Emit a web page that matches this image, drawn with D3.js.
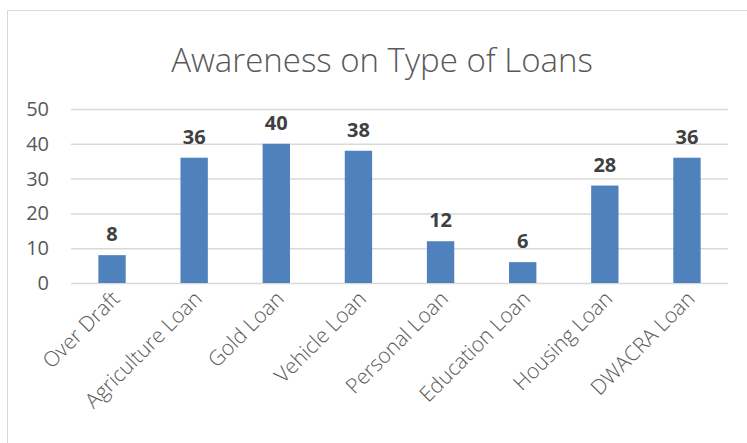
<!DOCTYPE html>
<html><head><meta charset="utf-8">
<script src="https://cdn.jsdelivr.net/npm/d3@7"></script>
<style>body{margin:0;background:#fff}svg{display:block}</style>
</head><body>
<svg id="c" width="747" height="443"></svg>
<script>
const categories = ["Over Draft","Agriculture Loan","Gold Loan","Vehicle Loan","Personal Loan","Education Loan","Housing Loan","DWACRA Loan"];
const values = [8,36,40,38,12,6,28,36];
const yTicks = [0,10,20,30,40,50];
const title = "Awareness on Type of Loans";

const svg = d3.select("#c");
svg.append("rect").attr("x",7.5).attr("y",10.5).attr("width",760).attr("height",460)
  .attr("fill","#fff").attr("stroke","#d9d9d9").attr("stroke-width",1);

const m = {left:71, right:728, top:109, bottom:283};
const x = d3.scaleBand().domain(categories).range([m.left,m.right]).paddingInner(0.667).paddingOuter(0.333);
const y = d3.scaleLinear().domain([0,50]).range([m.bottom,m.top]);

svg.append("text").attr("x",382).attr("y",72).attr("text-anchor","middle")
  .attr("font-family","Open Sans, sans-serif").attr("font-weight",300).attr("font-size",33)
  .attr("fill","#595959").text(title);

const ga = svg.append("g").attr("transform",`translate(${m.left},0)`)
  .call(d3.axisLeft(y).tickValues(yTicks).tickSize(-(m.right-m.left)).tickPadding(22));
ga.select(".domain").remove();
ga.selectAll(".tick line").attr("stroke","#d9d9d9").attr("stroke-width",1.5);
ga.selectAll(".tick text").attr("font-family","Open Sans, sans-serif").attr("font-size",20).attr("fill","#595959");

svg.selectAll("rect.bar").data(values).enter().append("rect").attr("class","bar")
  .attr("x",(d,i)=>x(categories[i])).attr("width",x.bandwidth())
  .attr("y",d=>y(d)).attr("height",d=>y(0)-y(d)).attr("fill","#4f81bd");

svg.selectAll("text.lbl").data(values).enter().append("text").attr("class","lbl")
  .attr("x",(d,i)=>x(categories[i])+x.bandwidth()/2).attr("y",d=>y(d)-14)
  .attr("text-anchor","middle").attr("font-family","Open Sans, sans-serif").attr("font-weight",700)
  .attr("font-size",20).attr("fill","#404040").text(d=>d);

const gx = svg.append("g").attr("transform",`translate(0,${m.bottom})`)
  .call(d3.axisBottom(x).tickSize(0).tickPadding(0));
gx.select(".domain").remove();
gx.selectAll(".tick text").attr("font-family","Open Sans, sans-serif").attr("font-weight",300).attr("font-size",21).attr("fill","#595959")
  .attr("text-anchor","end").attr("dy",0)
  .attr("transform","translate(9,17) rotate(-45)");
</script>
</body></html>
